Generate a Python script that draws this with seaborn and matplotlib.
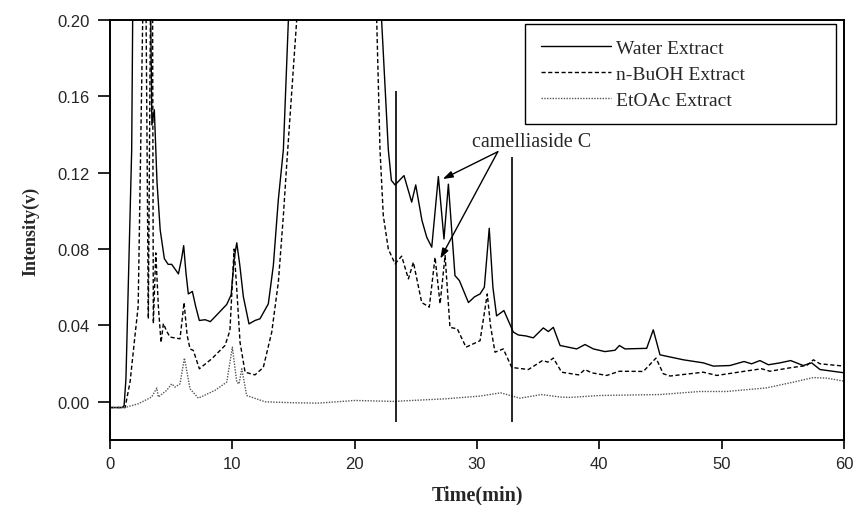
import matplotlib
matplotlib.use("Agg")
import matplotlib.pyplot as plt
import seaborn as sns
import numpy as np
import pandas as pd

# time (min) / intensity (v)
water_t = [0, 1.0, 1.15, 1.3, 1.77, 1.85, 2.6, 3.33, 3.42, 3.62, 3.84, 4.1, 4.44, 4.75, 5.04,
           5.59, 5.85, 6.02, 6.2, 6.4, 6.73, 7.0, 7.3, 7.77, 8.2, 8.8, 9.54, 9.9, 10.15, 10.36,
           10.6, 10.9, 11.36, 11.85, 12.26, 12.94, 13.35, 13.76, 14.17, 14.58, 18.5, 22.2, 22.75,
           23.0, 23.3, 24.03, 24.66, 24.99, 25.5, 25.89, 26.3, 26.84, 27.3, 27.66, 28.2, 28.56,
           29.3, 29.8, 30.25, 30.6, 31.0, 31.3, 31.6, 32.2, 32.97, 33.38, 34.0, 34.6, 35.42,
           35.83, 36.24, 36.79, 38.15, 38.83, 39.51, 40.46, 41.28, 41.64, 42.1, 43.87, 44.41,
           44.96, 46.87, 48.5, 49.32, 50.68, 51.83, 52.45, 53.13, 53.82, 54.77, 55.64, 56.67,
           57.36, 58.04, 60]
water_v = [-0.003, -0.003, -0.002, 0.012, 0.132, 0.2, 0.6, 0.2, 0.145, 0.153, 0.115, 0.09, 0.075,
           0.072, 0.072, 0.067, 0.075, 0.0818, 0.068, 0.0565, 0.0578, 0.05, 0.0426, 0.043, 0.042,
           0.046, 0.051, 0.056, 0.075, 0.0833, 0.072, 0.055, 0.0408, 0.0426, 0.0435, 0.0513,
           0.0714, 0.106, 0.132, 0.2, 1.0, 0.2, 0.132, 0.116, 0.1136, 0.1185, 0.1046, 0.1136,
           0.095, 0.0862, 0.081, 0.118, 0.0853, 0.114, 0.0661, 0.0635, 0.052, 0.055, 0.0565, 0.06,
           0.0909, 0.06, 0.045, 0.0478, 0.0365, 0.035, 0.0345, 0.0335, 0.0387, 0.0368, 0.039,
           0.0295, 0.0277, 0.030, 0.0277, 0.0263, 0.027, 0.0295, 0.0277, 0.028, 0.0377, 0.0246,
           0.022, 0.0204, 0.0187, 0.019, 0.0211, 0.0199, 0.0216, 0.0194, 0.0204, 0.0216, 0.019,
           0.0204, 0.0169, 0.0152]

buoh_t = [0, 1.23, 1.64, 2.04, 2.3, 2.67, 2.8, 2.95, 3.13, 3.3, 3.4, 3.48, 3.54, 3.74, 3.95, 4.17,
          4.36, 4.63, 4.9, 5.72, 6.05, 6.3, 6.54, 6.81, 7.3, 8.31, 9.4, 9.8, 10.14, 10.35, 10.63,
          11.04, 11.85, 12.53, 13.22, 13.76, 14.17, 14.44, 15.26, 18.5, 21.8, 22.07, 22.34, 22.75,
          23.3, 23.84, 24.39, 24.8, 25.48, 26.1, 26.57, 26.98, 27.39, 27.79, 28.39, 29.1, 30.25,
          30.84, 31.1, 31.47, 32.15, 32.84, 34.2, 35.35, 35.8, 36.24, 36.92, 38.3, 38.83, 39.37,
          40.6, 41.64, 43.6, 44.63, 45.23, 45.78, 48.5, 49.6, 51.77, 53.27, 53.95, 55.59, 56.95,
          57.5, 58.04, 60]
buoh_v = [-0.003, -0.003, 0.0105, 0.0347, 0.05, 0.2, 0.35, 0.2, 0.0435, 0.2, 0.3, 0.2, 0.041,
          0.078, 0.05, 0.031, 0.041, 0.037, 0.0339, 0.033, 0.052, 0.035, 0.0277, 0.0269, 0.0173,
          0.0225, 0.0295, 0.0373, 0.080, 0.06, 0.031, 0.0155, 0.0141, 0.018, 0.0365, 0.0627,
          0.0975, 0.124, 0.2, 0.8, 0.2, 0.132, 0.0975, 0.080, 0.0723, 0.0763, 0.0644, 0.0731,
          0.052, 0.0496, 0.0757, 0.0513, 0.0766, 0.039, 0.0382, 0.0286, 0.032, 0.0565, 0.04,
          0.026, 0.0277, 0.018, 0.0169, 0.0216, 0.0208, 0.0229, 0.0155, 0.0141, 0.0169, 0.0152,
          0.0138, 0.016, 0.0159, 0.0229, 0.0147, 0.0135, 0.0155, 0.0138, 0.0159, 0.0173, 0.016,
          0.0178, 0.019, 0.022, 0.0199, 0.0187]

etoac_t = [0, 1.23, 2.32, 3.4, 3.82, 3.95, 4.63, 5.04, 5.31, 5.72, 6.08, 6.54, 7.22, 8.58, 9.54,
           10.0, 10.36, 10.55, 10.77, 11.17, 12.67, 15, 17, 20.03, 23.16, 27.5, 30.25, 31.94,
           33.5, 35.29, 36.79, 37.6, 40.05, 44.96, 48.2, 50.4, 53.68, 55.86, 57.5, 58.59, 60]
etoac_v = [-0.003, -0.003, -0.001, 0.0025, 0.0072, 0.0025, 0.006, 0.0094, 0.0077, 0.0094, 0.0229,
           0.0068, 0.0019, 0.006, 0.0103, 0.0286, 0.0103, 0.0094, 0.0173, 0.0033, 0.0, -0.0005,
           -0.0007, 0.0007, 0.0002, 0.0016, 0.003, 0.0047, 0.0019, 0.0038, 0.0025, 0.0023,
           0.0033, 0.0038, 0.0054, 0.0054, 0.0073, 0.0103, 0.0127, 0.0124, 0.0108]

series_names = ["Water Extract", "n-BuOH Extract", "EtOAc Extract"]

# fraction window markers
marker_t = [23.36, 32.85]
marker_top = [0.163, 0.128]
marker_bottom = -0.0105

# camelliaside C peaks
peak_t = [27.2, 27.0]
peak_v = [0.1167, 0.075]

sns.set_style("ticks")
plt.rcParams['font.family'] = ['Liberation Sans', 'DejaVu Sans']

df = pd.concat([
    pd.DataFrame({"t": water_t, "v": water_v, "series": series_names[0]}),
    pd.DataFrame({"t": buoh_t, "v": buoh_v, "series": series_names[1]}),
    pd.DataFrame({"t": etoac_t, "v": etoac_v, "series": series_names[2]}),
])

fig = plt.figure(figsize=(8.55, 5.06), dpi=100)
ax = fig.add_axes([0.1287, 0.1285, 0.8584, 0.83])

styles = {
    series_names[0]: dict(color="black", linestyle="-", linewidth=1.0),
    series_names[1]: dict(color="black", linestyle=(0, (3, 1.8)), linewidth=1.0),
    series_names[2]: dict(color="#555555", linestyle=(0, (1, 1)), linewidth=1.0),
}
for name in series_names:
    sub = df[df["series"] == name]
    sns.lineplot(data=sub, x="t", y="v", ax=ax, label=name, sort=False, **styles[name])

ax.vlines(marker_t, marker_bottom, marker_top, color="black", linewidth=1.2)

ax.text(29.6, 0.134, "camelliaside C", family="Liberation Serif", fontsize=14.5)
for pt, pv in zip(peak_t, peak_v):
    ax.annotate("", xy=(pt, pv), xytext=(31.7, 0.131),
                arrowprops=dict(arrowstyle="-|>,head_length=0.6,head_width=0.2",
                                color="black", lw=1.0, shrinkA=0, shrinkB=0))

ax.set_xlim(0, 60)
ax.set_ylim(-0.02, 0.20)
ax.set_xticks([0, 10, 20, 30, 40, 50, 60])
ax.set_yticks([0.00, 0.04, 0.08, 0.12, 0.16, 0.20])
ax.set_yticklabels([f"{v:.2f}" for v in [0.00, 0.04, 0.08, 0.12, 0.16, 0.20]])
ax.tick_params(axis="y", direction="out", length=8.5, width=1.2, labelsize=12, pad=6, color="black")
ax.tick_params(axis="x", direction="out", length=6.5, width=1.2, labelsize=12, pad=5, color="black")
for s in ax.spines.values():
    s.set_visible(True)
    s.set_color("black")
    s.set_linewidth(1.4)

ax.set_xlabel("Time(min)", family="Liberation Serif", fontweight="bold", fontsize=14.5, labelpad=10)
ax.set_ylabel("Intensity(v)", family="Liberation Serif", fontweight="bold", fontsize=13, labelpad=13)

leg = ax.legend(loc="upper left", bbox_to_anchor=(0.5654, 0.76, 0.4238, 0.2305), mode="expand",
                frameon=True, fancybox=False, edgecolor="black", framealpha=1,
                prop={"family": "Liberation Serif", "size": 14}, handlelength=3.6,
                handletextpad=0.3, borderaxespad=0, borderpad=0.8, labelspacing=0.42)
leg.get_frame().set_linewidth(1.0)

fig.savefig("out.png", dpi=100)
